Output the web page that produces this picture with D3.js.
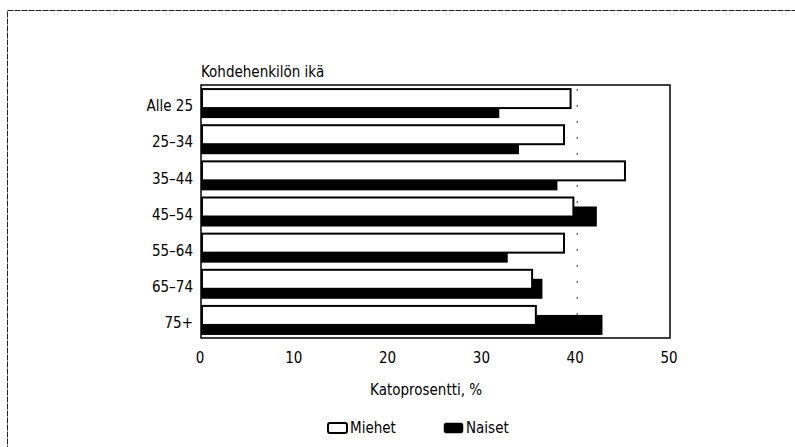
<!DOCTYPE html>
<html>
<head>
<meta charset="utf-8">
<script src="https://cdn.jsdelivr.net/npm/d3@7"></script>
<style>
  body { margin: 0; background: #fff; }
  svg { font-family: "DejaVu Sans Condensed", "Open Sans", sans-serif; }
</style>
</head>
<body>
<svg id="chart" width="795" height="447"></svg>
<script>
// ikäryhmät ja katoprosentit
const ageGroups = ["Alle 25", "25–34", "35–44", "45–54", "55–64", "65–74", "75+"];
const miehet = [39.4, 38.7, 45.2, 39.7, 38.7, 35.3, 35.7];
const naiset = [31.8, 33.9, 38.0, 42.2, 32.7, 36.4, 42.8];
const xTicks = [0, 10, 20, 30, 40, 50];
const seriesNames = ["Miehet", "Naiset"];

const svg = d3.select("#chart");
const margin = {top: 85, right: 125, bottom: 109, left: 201};
const width = 795 - margin.left - margin.right,
      height = 447 - margin.top - margin.bottom;
const fs = 15;

// ulkokehys
svg.append("rect")
  .attr("x", 7.5).attr("y", 10.5)
  .attr("width", 800).attr("height", 460)
  .attr("fill", "none")
  .attr("stroke", "#222")
  .attr("stroke-width", 1)
  .attr("stroke-dasharray", "6,1");

const g = svg.append("g").attr("transform", "translate(" + margin.left + "," + margin.top + ")");

const x = d3.scaleLinear().domain([0, 50]).range([0, width]);
const y = d3.scaleBand().domain(ageGroups).range([0, height]).paddingInner(0).paddingOuter(0);
const bh = y.bandwidth();
const barH = 20, off = 10, top0 = (bh - barH - off) / 2;

// 40 % apuviiva
g.append("line")
  .attr("x1", x(40) + 1).attr("x2", x(40) + 1)
  .attr("y1", 4).attr("y2", height - 4)
  .attr("stroke", "#555")
  .attr("stroke-width", 1.2)
  .attr("stroke-dasharray", "2,14");

// naiset (musta, taustalla)
g.append("g").selectAll("rect")
  .data(naiset)
  .enter().append("rect")
  .attr("x", 0)
  .attr("y", (d, i) => y(ageGroups[i]) + top0 + off)
  .attr("width", d => x(d))
  .attr("height", barH)
  .attr("fill", "#000");

// miehet (valkoinen, päällä)
g.append("g").selectAll("rect")
  .data(miehet)
  .enter().append("rect")
  .attr("x", 1)
  .attr("y", (d, i) => y(ageGroups[i]) + top0 + 1)
  .attr("width", d => x(d) - 1)
  .attr("height", barH - 1)
  .attr("fill", "#fff")
  .attr("stroke", "#000")
  .attr("stroke-width", 2);

// kehys
g.append("rect")
  .attr("width", width).attr("height", height)
  .attr("fill", "none")
  .attr("stroke", "#000")
  .attr("stroke-width", 1.5);

// y-akseli
g.append("g")
  .attr("font-size", fs)
  .attr("text-anchor", "end")
  .selectAll("text")
  .data(ageGroups)
  .enter().append("text")
  .attr("x", -8)
  .attr("y", d => y(d) + top0 + (barH + off) / 2 + 3)
  .attr("dy", "0.35em")
  .attr("fill", "#000")
  .text(d => d);

// x-akseli
g.append("g")
  .attr("font-size", fs)
  .attr("text-anchor", "middle")
  .selectAll("text")
  .data(xTicks)
  .enter().append("text")
  .attr("x", d => x(d) - 1)
  .attr("y", height + 20)
  .attr("dy", "0.35em")
  .attr("fill", "#000")
  .text(d => d);

g.append("text")
  .attr("x", 0).attr("y", -8)
  .attr("font-size", fs)
  .attr("fill", "#000")
  .text("Kohdehenkilön ikä");

g.append("text")
  .attr("x", x(24))
  .attr("y", height + 52)
  .attr("dy", "0.35em")
  .attr("text-anchor", "middle")
  .attr("font-size", fs)
  .attr("fill", "#000")
  .text("Katoprosentti, %");

// selite
const legend = svg.append("g")
  .attr("font-size", fs)
  .selectAll("g")
  .data(seriesNames)
  .enter().append("g")
  .attr("transform", (d, i) => "translate(" + (328 + i * 116) + ",428)");

legend.append("rect")
  .attr("x", 0).attr("y", -5)
  .attr("width", 19).attr("height", 10)
  .attr("rx", 2)
  .attr("fill", (d, i) => i === 0 ? "#fff" : "#000")
  .attr("stroke", "#000")
  .attr("stroke-width", (d, i) => i === 0 ? 2 : 0.5);

legend.append("text")
  .attr("x", 22).attr("y", 0)
  .attr("dy", "0.35em")
  .attr("fill", "#000")
  .text(d => d);
</script>
</body>
</html>
